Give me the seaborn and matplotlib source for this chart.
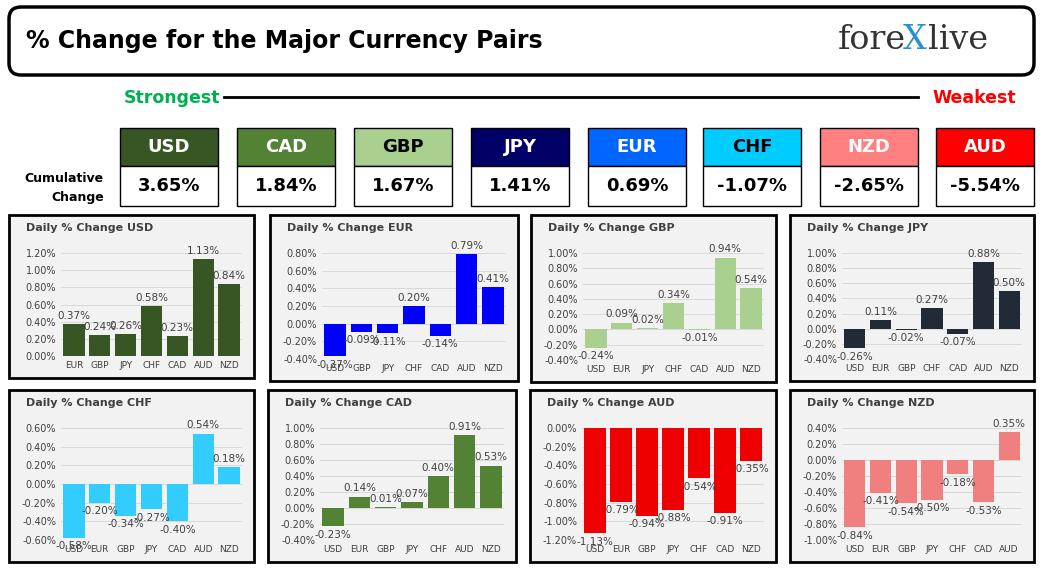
import matplotlib
matplotlib.use("Agg")
import matplotlib.pyplot as plt
import seaborn as sns
import pandas as pd
from matplotlib.patches import FancyBboxPatch, Rectangle

W, H = 1048, 571
ccys = ["USD", "CAD", "GBP", "JPY", "EUR", "CHF", "NZD", "AUD"]
cum = [3.65, 1.84, 1.67, 1.41, 0.69, -1.07, -2.65, -5.54]
tile_colors = ["#375623", "#548235", "#a9d08e", "#000066", "#0066ff", "#00ccff", "#ff8080", "#ff0000"]
tile_text = ["white", "white", "black", "white", "white", "black", "white", "white"]

panels = [
    ("USD", ["EUR", "GBP", "JPY", "CHF", "CAD", "AUD", "NZD"], [0.37, 0.24, 0.26, 0.58, 0.23, 1.13, 0.84], (0, 1.2), "#375623"),
    ("EUR", ["USD", "GBP", "JPY", "CHF", "CAD", "AUD", "NZD"], [-0.37, -0.09, -0.11, 0.20, -0.14, 0.79, 0.41], (-0.4, 0.8), "#0000ff"),
    ("GBP", ["USD", "EUR", "JPY", "CHF", "CAD", "AUD", "NZD"], [-0.24, 0.09, 0.02, 0.34, -0.01, 0.94, 0.54], (-0.4, 1.0), "#a9d08e"),
    ("JPY", ["USD", "EUR", "GBP", "CHF", "CAD", "AUD", "NZD"], [-0.26, 0.11, -0.02, 0.27, -0.07, 0.88, 0.50], (-0.4, 1.0), "#222a35"),
    ("CHF", ["USD", "EUR", "GBP", "JPY", "CAD", "AUD", "NZD"], [-0.58, -0.20, -0.34, -0.27, -0.40, 0.54, 0.18], (-0.6, 0.6), "#33ccff"),
    ("CAD", ["USD", "EUR", "GBP", "JPY", "CHF", "AUD", "NZD"], [-0.23, 0.14, 0.01, 0.07, 0.40, 0.91, 0.53], (-0.4, 1.0), "#548235"),
    ("AUD", ["USD", "EUR", "GBP", "JPY", "CHF", "CAD", "NZD"], [-1.13, -0.79, -0.94, -0.88, -0.54, -0.91, -0.35], (-1.2, 0.0), "#ee0000"),
    ("NZD", ["USD", "EUR", "GBP", "JPY", "CHF", "CAD", "AUD"], [-0.84, -0.41, -0.54, -0.50, -0.18, -0.53, 0.35], (-1.0, 0.4), "#f08080"),
]
boxes = [(9, 215, 254, 378), (270, 215, 518, 381), (531, 215, 776, 382), (790, 215, 1034, 381),
         (9, 390, 254, 562), (268, 390, 516, 562), (530, 390, 776, 562), (790, 390, 1034, 562)]

fig = plt.figure(figsize=(W / 100, H / 100), dpi=100)
fig.patch.set_facecolor("white")
bg = fig.add_axes([0, 0, 1, 1])
bg.set_xlim(0, W); bg.set_ylim(H, 0); bg.axis("off")

bg.add_patch(FancyBboxPatch((9, 7), 1025, 68, boxstyle="round,pad=0,rounding_size=12",
                            fc="white", ec="black", lw=2.5))
bg.text(26, 41, "% Change for the Major Currency Pairs", fontsize=17, fontweight="bold", va="center")
bg.text(838, 40, "fore", fontsize=24, color="#333", va="center", family="DejaVu Serif")
bg.text(903, 40, "X", fontsize=24, color="#2a8fd0", va="center", family="DejaVu Serif")
bg.text(928, 40, "live", fontsize=24, color="#333", va="center", family="DejaVu Serif")

bg.text(124, 98, "Strongest", color="#00b050", fontsize=12.5, fontweight="bold", va="center")
bg.text(1016, 98, "Weakest", color="red", fontsize=12.5, fontweight="bold", va="center", ha="right")
bg.plot([224, 918], [97, 97], color="black", lw=2)
bg.text(64, 179, "Cumulative", fontsize=9, fontweight="bold", ha="center", va="center")
bg.text(78, 197, "Change", fontsize=9, fontweight="bold", ha="center", va="center")

tx = [120, 237, 354, 471, 588, 703, 820, 936]
for x, c, v, col, tc in zip(tx, ccys, cum, tile_colors, tile_text):
    bg.add_patch(Rectangle((x, 128), 98, 38, fc=col, ec="black", lw=1))
    bg.add_patch(Rectangle((x, 166), 98, 40, fc="white", ec="black", lw=1))
    bg.text(x + 49, 147, c, color=tc, fontsize=13, fontweight="bold", ha="center", va="center")
    bg.text(x + 49, 186, f"{v:.2f}%", fontsize=13, fontweight="bold", ha="center", va="center")

for (name, cats, vals, (lo, hi), color), (x0, y0, x1, y1) in zip(panels, boxes):
    bg.add_patch(Rectangle((x0, y0), x1 - x0, y1 - y0, fc="#f2f2f2", ec="black", lw=2))
    bg.text(x0 + 17, y0 + 13, f"Daily % Change {name}", fontsize=8, fontweight="bold",
            color="#404040", va="center")
    ax = fig.add_axes([(x0 + 52) / W, 1 - (y1 - 22) / H, (x1 - x0 - 64) / W, (y1 - y0 - 60) / H])
    ax.patch.set_alpha(0)
    df = pd.DataFrame({"ccy": cats, "val": vals})
    sns.barplot(data=df, x="ccy", y="val", color=color, saturation=1, width=0.82, ax=ax,
                edgecolor="none")
    ax.set_ylim(lo, hi)
    step = 0.2
    ticks = [round(lo + i * step, 2) for i in range(int(round((hi - lo) / step)) + 1)]
    ax.set_yticks(ticks)
    ax.set_yticklabels([f"{t:.2f}%" for t in ticks], fontsize=7, color="#404040")
    ax.tick_params(axis="x", labelsize=6.5, colors="#404040", length=0)
    ax.tick_params(axis="y", length=0)
    ax.set_xlabel(""); ax.set_ylabel("")
    ax.grid(axis="y", color="#d9d9d9", lw=0.7)
    ax.set_axisbelow(True)
    for s in ax.spines.values():
        s.set_visible(False)
    for i, v in enumerate(vals):
        off = 0.03 * (hi - lo)
        ax.text(i, v + off if v >= 0 else v - off, f"{v:.2f}%", ha="center",
                va="bottom" if v >= 0 else "top", fontsize=7.5, color="#404040", clip_on=False)

fig.savefig("out.png", dpi=100, facecolor="white")
